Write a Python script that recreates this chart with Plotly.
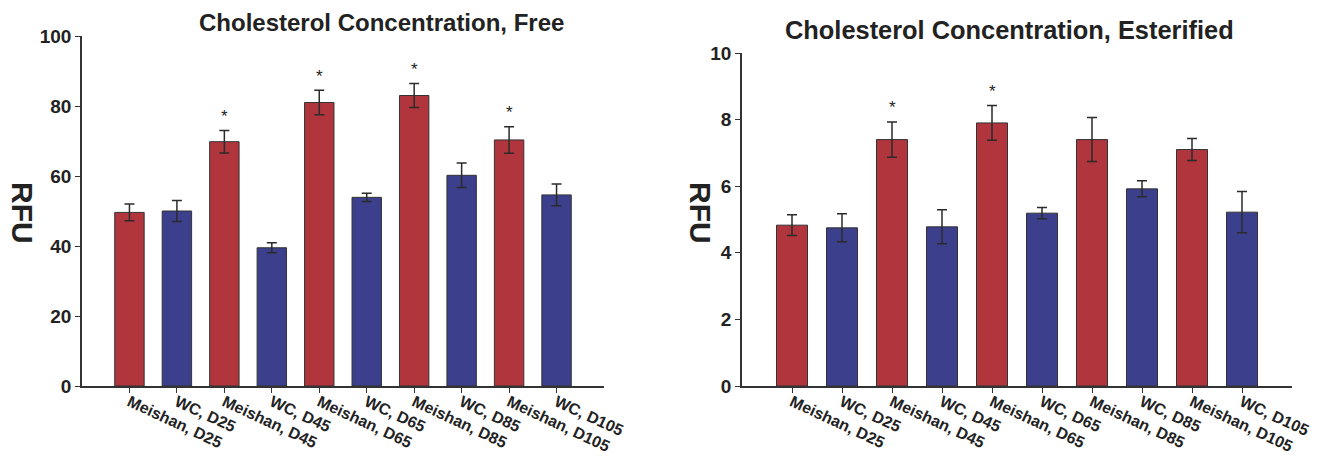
import plotly.graph_objects as go

categories = ["Meishan, D25", "WC, D25", "Meishan, D45", "WC, D45", "Meishan, D65",
              "WC, D65", "Meishan, D85", "WC, D85", "Meishan, D105", "WC, D105"]
breed = ["Meishan", "WC"] * 5

free_values = [49.6, 50.0, 69.8, 39.5, 81.0, 53.9, 83.0, 60.2, 70.3, 54.6]
free_errors = [2.4, 3.0, 3.2, 1.4, 3.5, 1.2, 3.4, 3.5, 3.8, 3.1]
free_signif = [False, False, True, False, True, False, True, False, True, False]

ester_values = [4.83, 4.75, 7.40, 4.78, 7.90, 5.19, 7.40, 5.92, 7.10, 5.22]
ester_errors = [0.31, 0.42, 0.53, 0.51, 0.52, 0.17, 0.66, 0.24, 0.33, 0.62]
ester_signif = [False, False, True, False, True, False, False, False, False, False]

titles = ["Cholesterol Concentration, Free", "Cholesterol Concentration, Esterified"]
y_title = "RFU"

RED = "#b1353d"
BLUE = "#3c3f8c"
INK = "#2b2b2b"
FONT = "Liberation Sans, Arial, sans-serif"
W, H = 1326, 457

colors = [RED if b == "Meishan" else BLUE for b in breed]

fig = go.Figure()

panels = [
    dict(vals=free_values, errs=free_errors, sig=free_signif, xa="x", ya="y",
         xdom=(82, 604), ytop=36, yrange=[0, 100], dtick=20,
         title_x=382, title_y=22, title_size=24, rfu_x=23),
    dict(vals=ester_values, errs=ester_errors, sig=ester_signif, xa="x2", ya="y2",
         xdom=(742, 1292), ytop=53, yrange=[0, 10], dtick=2,
         title_x=1009, title_y=30, title_size=25.4, rfu_x=701),
]

ybottom = 386
annotations = []
for i, p in enumerate(panels):
    fig.add_trace(go.Bar(
        x=categories, y=p["vals"], xaxis=p["xa"], yaxis=p["ya"],
        marker=dict(color=colors, line=dict(color="#333333", width=1)),
        width=0.62,
        error_y=dict(type="data", array=p["errs"], visible=True,
                     color=INK, thickness=1.5, width=5),
        showlegend=False,
    ))
    sfx = "" if i == 0 else str(i + 1)
    fig.layout["xaxis" + sfx] = dict(
        domain=[p["xdom"][0] / W, p["xdom"][1] / W],
        anchor="y" + sfx, type="category", range=[-1, 10], automargin=False,
        showline=True, linecolor="#333333", linewidth=1.5,
        ticks="outside", ticklen=5, tickcolor="#333333", tickwidth=1,
        tickangle=25, ticklabelstandoff=-6, showgrid=False, zeroline=False,
        tickfont=dict(family=FONT, size=16, color="#222222", weight="bold"),
    )
    fig.layout["yaxis" + sfx] = dict(
        domain=[1 - ybottom / H, 1 - p["ytop"] / H],
        anchor="x" + sfx, range=p["yrange"], dtick=p["dtick"], automargin=False,
        showline=True, linecolor="#333333", linewidth=1.5,
        ticks="outside", ticklen=5, tickcolor="#333333", tickwidth=1,
        showgrid=False, zeroline=False,
        tickfont=dict(family=FONT, size=19, color="#222222", weight="bold"),
    )
    annotations.append(dict(
        text="<b>" + titles[i] + "</b>", xref="paper", yref="paper",
        x=p["title_x"] / W, y=1 - p["title_y"] / H, xanchor="center", yanchor="middle",
        showarrow=False, font=dict(family=FONT, size=p["title_size"], color="#222222"),
    ))
    annotations.append(dict(
        text="<b>" + y_title + "</b>", xref="paper", yref="paper",
        x=p["rfu_x"] / W, y=1 - 213 / H, xanchor="center", yanchor="middle",
        textangle=90, showarrow=False, font=dict(family=FONT, size=30, color="#222222"),
    ))
    for c, v, e, s in zip(categories, p["vals"], p["errs"], p["sig"]):
        if s:
            annotations.append(dict(
                text="*", x=c, y=v + e, xref=p["xa"], yref=p["ya"],
                yanchor="middle", yshift=14, showarrow=False,
                font=dict(family=FONT, size=17, color="#222222"),
            ))

fig.update_layout(
    width=W, height=H,
    margin=dict(l=0, r=0, t=0, b=0, autoexpand=False),
    paper_bgcolor="white", plot_bgcolor="white",
    bargap=0.38,
    annotations=annotations,
    font=dict(family=FONT, color="#222222"),
)

fig.write_html("out.html", config={"displayModeBar": False},
               post_script="document.body.style.margin='0';document.body.style.overflow='hidden';")
